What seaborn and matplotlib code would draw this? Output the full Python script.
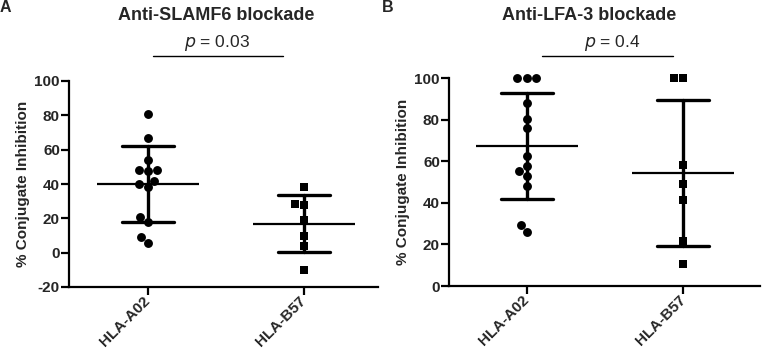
import numpy as np
import pandas as pd
import matplotlib
matplotlib.use("Agg")
import matplotlib.pyplot as plt
import seaborn as sns

# ---- data ----
groups = ["HLA-A02", "HLA-B57"]
slamf6_a02 = [81, 67, 54, 48, 47.5, 48, 42, 40, 38, 21, 18, 9, 5.5]
slamf6_b57 = [38.5, 28.5, 27.5, 19, 10, 4, -10]
lfa3_a02 = [100, 100, 100, 88, 80.5, 76, 62.5, 57.5, 55.5, 53, 48, 29.5, 26]
lfa3_b57 = [100, 100, 58, 49, 41.5, 21.5, 10.5]
titles = ["Anti-SLAMF6 blockade", "Anti-LFA-3 blockade"]
p_values = ["0.03", "0.4"]
panel_letters = ["A", "B"]
ylabel = "% Conjugate Inhibition"
yticks_a = [-20, 0, 20, 40, 60, 80, 100]
yticks_b = [0, 20, 40, 60, 80, 100]
group_markers = ["o", "s"]

sns.set_style("ticks")
plt.rcParams["font.family"] = ["Liberation Sans", "DejaVu Sans"]

W, H = 763, 351
fig = plt.figure(figsize=(W / 100, H / 100), dpi=100)


def px_rect(l, t, r, b):
    return [l / W, 1 - b / H, (r - l) / W, (b - t) / H]


def make_df(a, b):
    return pd.DataFrame({"group": [groups[0]] * len(a) + [groups[1]] * len(b),
                         "value": list(a) + list(b)})


def draw_panel(ax, df, ylim, yticks, xlim):
    sns.pointplot(data=df, x="group", y="value", order=groups, errorbar="sd",
                  capsize=0.33, color="black", markers="_", markersize=74,
                  markeredgewidth=1.6, linestyle="none",
                  err_kws={"linewidth": 2.4}, ax=ax, zorder=3)
    for g, m in zip(groups, group_markers):
        sns.swarmplot(data=df[df["group"] == g], x="group", y="value", order=groups,
                      marker=m, size=6.4, color="black", linewidth=0, ax=ax,
                      clip_on=False, zorder=4)
    ax.set_xlim(*xlim)
    ax.set_ylim(*ylim)
    ax.set_yticks(yticks, labels=[str(v) for v in yticks],
                  fontweight="bold", fontsize=11)
    ax.set_xlabel("")
    ax.set_ylabel(ylabel, fontsize=11, fontweight="bold", labelpad=3)
    sns.despine(ax=ax)
    for s in ["left", "bottom"]:
        ax.spines[s].set_linewidth(1.6)
        ax.spines[s].set_color("black")
    ax.tick_params(axis="both", length=5.5, width=1.6, color="black", pad=1)
    ax.set_xticks([0, 1], labels=groups, rotation=45, ha="right",
                  va="center", rotation_mode="anchor",
                  fontweight="bold", fontsize=11)
    ax.tick_params(axis="x", pad=3)
    ax.set_facecolor("white")


df_a = make_df(slamf6_a02, slamf6_b57)
df_b = make_df(lfa3_a02, lfa3_b57)

ax_a = fig.add_axes(px_rect(69, 81, 378, 287))
draw_panel(ax_a, df_a, (-20, 100), yticks_a, (-0.506, 1.474))
ax_b = fig.add_axes(px_rect(449, 78, 760, 286))
draw_panel(ax_b, df_b, (0, 100), yticks_b, (-0.496, 1.49))

# titles, p-values, panel letters
title_pos = [(216, 15), (589, 15)]
p_pos = [(217, 43), (612.5, 43)]
line_pos = [(153, 283, 56), (542, 673, 56)]
letter_pos = [(5, 8), (388, 8)]
for i in range(2):
    fig.text(title_pos[i][0] / W, 1 - title_pos[i][1] / H, titles[i],
             ha="center", va="center", fontsize=13, fontweight="bold")
    fig.text(p_pos[i][0] / W, 1 - p_pos[i][1] / H,
             r"$\it{p}$ = " + p_values[i], ha="center", va="center", fontsize=12.5)
    x0, x1, y = line_pos[i]
    fig.add_artist(plt.Line2D([x0 / W, x1 / W], [1 - y / H, 1 - y / H],
                              color="black", linewidth=1.0))
    fig.text(letter_pos[i][0] / W, 1 - letter_pos[i][1] / H, panel_letters[i],
             ha="center", va="center", fontsize=11.5, fontweight="bold")

fig.savefig("out.png", dpi=100, facecolor="white")
